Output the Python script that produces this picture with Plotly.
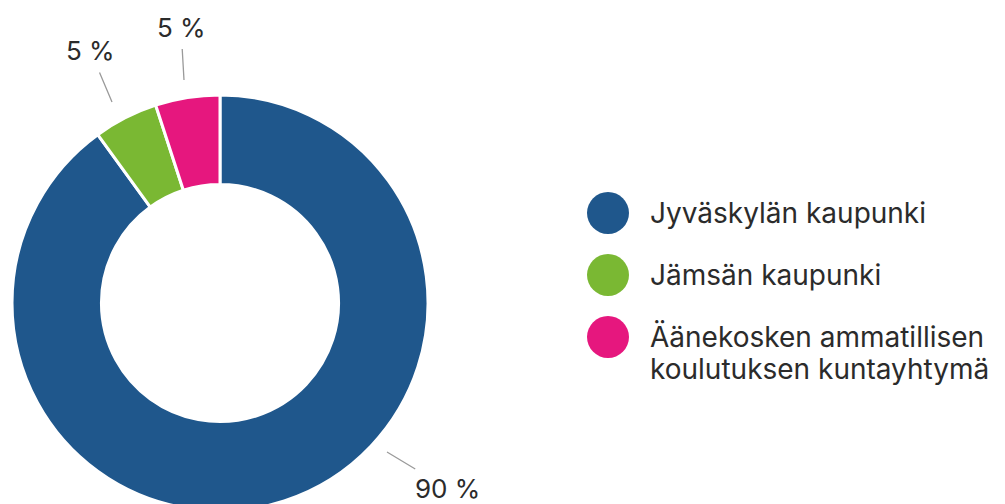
import plotly.graph_objects as go

# --- data ---
categories = ["Jyväskylän kaupunki", "Jämsän kaupunki", "Äänekosken ammatillisen koulutuksen kuntayhtymä"]
legend_lines = [["Jyväskylän kaupunki"], ["Jämsän kaupunki"], ["Äänekosken ammatillisen", "koulutuksen kuntayhtymä"]]
shares = [90, 5, 5]
value_labels = ["90 %", "5 %", "5 %"]
colors = ["#1F578C", "#7AB833", "#E6177E"]

W, H = 1005, 504
OFF = 8  # page body margin: figure pixel p appears at screen p + OFF
FONT = "Inter, 'Noto Sans', sans-serif"
TEXT_COLOR = "#2b2b2b"

fig = go.Figure()

# donut (screen centre 220,303 radius 208)
cx, cy, r = 220 - OFF, 303 - OFF, 208
fig.add_trace(go.Pie(
    labels=categories,
    values=shares,
    sort=False,
    direction="clockwise",
    rotation=0,
    hole=0.57,
    marker=dict(colors=colors, line=dict(color="white", width=3)),
    textinfo="none",
    hoverinfo="label+percent",
    showlegend=False,
    domain=dict(x=[(cx - r) / W, (cx + r) / W],
                y=[max(0, (H - cy - r) / H), (H - cy + r) / H]),
))

# custom legend (large circles)
idx = list(range(len(categories)))
fig.add_trace(go.Scatter(
    x=[0] * len(categories), y=idx,
    mode="markers",
    marker=dict(size=42, color=colors, line=dict(width=0)),
    hoverinfo="skip",
    showlegend=False,
))
LINE_DY = 32
for i, lines in enumerate(legend_lines):
    for j, line in enumerate(lines):
        fig.add_annotation(
            x=0, y=i, xref="x", yref="y",
            text=line, showarrow=False,
            xanchor="left", yanchor="middle",
            xshift=40, yshift=-LINE_DY * j,
            align="left",
            font=dict(family=FONT, size=28, color=TEXT_COLOR),
        )

# value labels with leader lines: (text centre, line tip near ring, start standoff), screen px
label_layout = [
    ((447, 488), (387, 452), 4),
    ((90, 50), (112, 102), 6),
    ((181, 28), (184, 80), 4),
]
for lab, ((tx, ty), (px, py), sso) in zip(value_labels, label_layout):
    fig.add_annotation(
        x=(px - OFF) / W, y=1 - (py - OFF) / H, xref="paper", yref="paper",
        ax=tx - px, ay=ty - py, axref="pixel", ayref="pixel",
        text=lab, showarrow=True, arrowhead=0, arrowwidth=1.3,
        arrowcolor="#9a9a9a", startstandoff=sso,
        font=dict(family=FONT, size=26, color=TEXT_COLOR),
    )

# axes so that legend index i sits at screen row 213 + 62*i, x=0 at screen column 608
leg_x0, leg_y0, leg_dy = 608 - OFF, 213 - OFF, 62
fig.update_xaxes(visible=False, range=[-leg_x0, W - leg_x0], domain=[0, 1], fixedrange=True)
fig.update_yaxes(visible=False, range=[(H - leg_y0) / leg_dy, -leg_y0 / leg_dy], domain=[0, 1], fixedrange=True)

fig.update_layout(
    width=W, height=H,
    margin=dict(l=0, r=0, t=0, b=0),
    paper_bgcolor="white", plot_bgcolor="white",
    font=dict(family=FONT, color=TEXT_COLOR),
)

fig.write_html("out.html")
